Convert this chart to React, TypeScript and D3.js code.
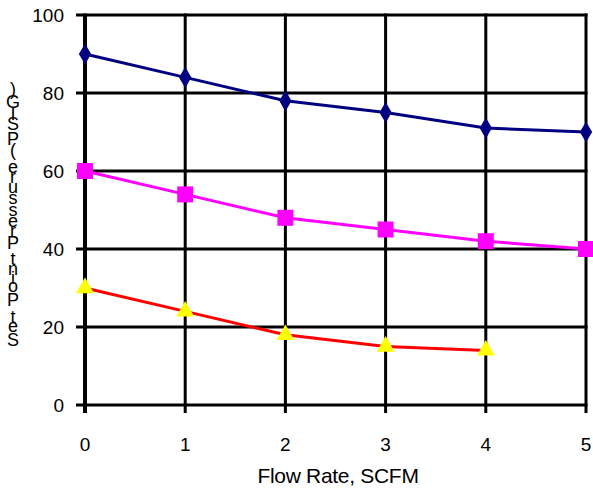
import React from "react";
import * as d3 from "d3";

const flowRates = [0, 1, 2, 3, 4, 5];
const seriesHigh = [90, 84, 78, 75, 71, 70];
const seriesMid = [60, 54, 48, 45, 42, 40];
const seriesLow = [30, 24, 18, 15, 14];
const xTicks = [0, 1, 2, 3, 4, 5];
const yTicks = [0, 20, 40, 60, 80, 100];
const xTitle = "Flow Rate, SCFM";
const yTitle = "Set Point Pressure (PSIG)";

const W = 593;
const H = 492;
const FONT = "Liberation Sans, Arial, sans-serif";

function measure(text: string, size: number): number {
  if (typeof document === "undefined") return text.length * size * 0.5;
  const c = document.createElement("canvas");
  const ctx = c.getContext("2d")!;
  ctx.font = `${size}px "Liberation Sans", Arial, sans-serif`;
  return ctx.measureText(text).width;
}

export default function App() {
  const x = d3.scaleLinear().domain([0, 5]).range([85, 586]);
  const y = d3.scaleLinear().domain([0, 100]).range([405, 15]);
  const line = d3
    .line<number>()
    .x((_, i) => x(flowRates[i]))
    .y((d) => y(d));

  // stacked upright y-title characters (bottom to top)
  const chars = yTitle.split("");
  const advances = chars.map((ch) => measure(ch, 20));
  const rawTotal = d3.sum(advances);
  const targetTotal = 262;
  const k = targetTotal / rawTotal;
  const centerY = 216;
  let acc = 0;
  const placed = chars.map((ch, i) => {
    const mid = (acc + advances[i] / 2) * k;
    acc += advances[i];
    return { ch, yPos: centerY + targetTotal / 2 - mid };
  });

  const diamond = d3.symbol().type(d3.symbolDiamond).size(130)() as string;
  const square = d3.symbol().type(d3.symbolSquare).size(256)() as string;
  const triangle = d3.symbol().type(d3.symbolTriangle).size(140)() as string;

  return (
    <svg
      width={W}
      height={H}
      style={{ position: "absolute", left: 0, top: 0, background: "#fff" }}
      fontFamily={FONT}
    >
      <rect width={W} height={H} fill="#fff" />
      {yTicks.map((t) => (
        <line
          key={"h" + t}
          x1={76}
          x2={x(5) + 1.5}
          y1={y(t)}
          y2={y(t)}
          stroke="#000"
          strokeWidth={3}
        />
      ))}
      {xTicks.map((t) => (
        <line
          key={"v" + t}
          x1={x(t)}
          x2={x(t)}
          y1={y(100) - 1.5}
          y2={413}
          stroke="#000"
          strokeWidth={t === 0 ? 4 : 3}
        />
      ))}
      {yTicks.map((t) => (
        <text
          key={"yl" + t}
          x={64}
          y={y(t)}
          dy="0.36em"
          textAnchor="end"
          fontSize={19}
          fill="#000"
        >
          {t}
        </text>
      ))}
      {xTicks.map((t) => (
        <text
          key={"xl" + t}
          x={x(t)}
          y={451}
          textAnchor="middle"
          fontSize={19}
          fill="#000"
        >
          {t}
        </text>
      ))}
      <text
        x={338}
        y={483}
        textAnchor="middle"
        fontSize={21}
        letterSpacing={-0.3}
        fill="#000"
      >
        {xTitle}
      </text>
      {placed.map((p, i) => (
        <text
          key={"yt" + i}
          x={13}
          y={p.yPos}
          dy="0.36em"
          textAnchor="middle"
          fontSize={18}
          fill="#000"
        >
          {p.ch}
        </text>
      ))}
      <path d={line(seriesHigh) || ""} fill="none" stroke="#000080" strokeWidth={3} />
      <path d={line(seriesMid) || ""} fill="none" stroke="#FF00FF" strokeWidth={3} />
      <path d={line(seriesLow) || ""} fill="none" stroke="#FF0000" strokeWidth={3} />
      {seriesHigh.map((v, i) => (
        <path
          key={"d" + i}
          d={diamond}
          transform={`translate(${x(flowRates[i])},${y(v)})`}
          fill="#000080"
        />
      ))}
      {seriesMid.map((v, i) => (
        <path
          key={"s" + i}
          d={square}
          transform={`translate(${x(flowRates[i])},${y(v)})`}
          fill="#FF00FF"
        />
      ))}
      {seriesLow.map((v, i) => (
        <path
          key={"t" + i}
          d={triangle}
          transform={`translate(${x(flowRates[i])},${y(v)})`}
          fill="#FFFF00"
        />
      ))}
    </svg>
  );
}
